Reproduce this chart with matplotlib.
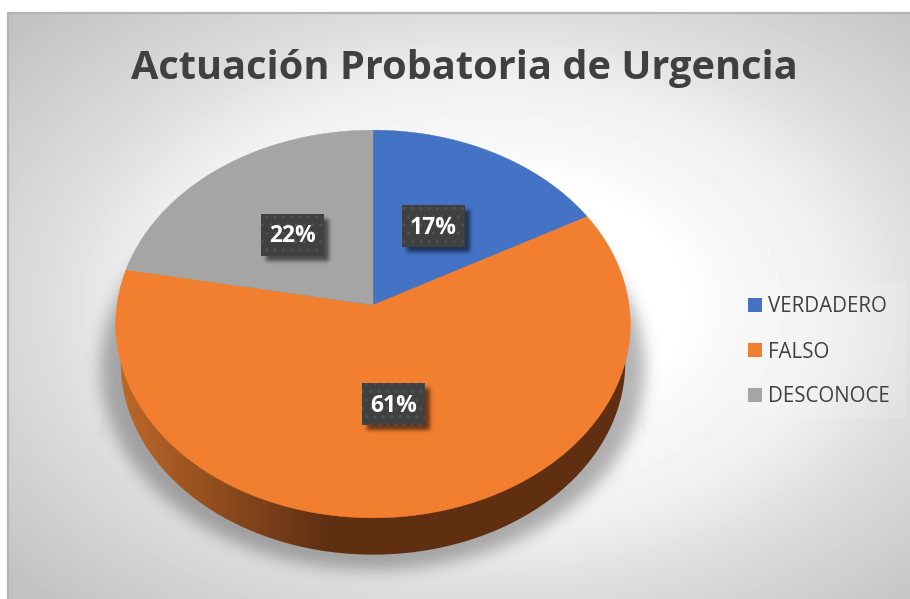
import matplotlib
matplotlib.use("Agg")
import matplotlib.pyplot as plt
import numpy as np
from matplotlib.patches import Polygon, Rectangle
from matplotlib.path import Path

categories = ["VERDADERO", "FALSO", "DESCONOCE"]
percents = [17, 61, 22]
colors = ["#4472c4", "#f27e30", "#a5a5a5"]
title = "Actuación Probatoria de Urgencia"

W, H = 910, 599
label_boxes = [(402, 205), (362, 383), (261, 214)]
legend_y = [305, 350, 395]

plt.rcParams["font.family"] = ["Open Sans", "DejaVu Sans"]


def project(theta, cx=373, cy=305, sx=256, sy=192, k=-0.098):
    # tilted circle -> picture, theta clockwise from 12 o'clock
    x = np.sin(theta)
    y = np.cos(theta)
    d = 1 - k * y
    return cx + sx * x / d, cy - sy * y / d


def blur(a, sigma):
    r = int(3 * sigma)
    g = np.exp(-0.5 * (np.arange(-r, r + 1) / sigma) ** 2)
    g /= g.sum()
    a = np.apply_along_axis(lambda m: np.convolve(m, g, mode="same"), 0, a)
    a = np.apply_along_axis(lambda m: np.convolve(m, g, mode="same"), 1, a)
    return a


fig = plt.figure(figsize=(W / 100, H / 100), dpi=100)
ax = fig.add_axes([0, 0, 1, 1])
ax.set_xlim(0, W)
ax.set_ylim(H, 0)
ax.axis("off")

# background gradient
xx, yy = np.meshgrid(np.arange(W) + 0.5, np.arange(H) + 0.5)
t = np.sqrt(((xx - 490) / 450) ** 2 + ((yy - 305) / 295) ** 2) / np.sqrt(2)
bg = np.interp(t, [0, 0.3, 0.38, 0.54, 0.707, 0.8, 1.0], [255, 255, 248, 240, 220, 212, 194]) / 255
ax.imshow(bg, cmap="gray", vmin=0, vmax=1, extent=(0, W, H, 0), zorder=0, aspect="auto")
ax.add_patch(Rectangle((0, 0), W, 12, fc="white", ec="none", zorder=0.5))
ax.add_patch(Rectangle((0, 0), 7, H, fc="white", ec="none", zorder=0.5))
ax.plot([7.5, 7.5, W], [H, 12.5, 12.5], color="#b4b4b4", lw=1.6, zorder=0.6)

# legend panel is a bit lighter than the background
ax.add_patch(Rectangle((735, 282), 171, 136, fc="white", ec="none", alpha=0.12, zorder=0.7))

# soft shadow below the pie
pts = Path(np.column_stack([xx.ravel(), yy.ravel()]))
ell = ((xx - 373) / 272) ** 2 + ((yy - 368) / 202) ** 2 < 1
shadow = blur(ell.astype(float), 8) * 0.3
trap = Path([(122, 330), (625, 330), (650, 442), (96, 442)])
tmask = trap.contains_points(pts.vertices).reshape(xx.shape).astype(float)
fade = np.clip(np.abs(xx - 373) - 245, 0, None) / 30
tval = tmask * (1 - 0.75 * np.clip(fade, 0, 1)) * np.clip((442 - yy) / 30, 0, 1) * 0.27
shadow = np.maximum(shadow, blur(tval, 1))
rgba = np.zeros((H, W, 4))
rgba[..., 3] = shadow
ax.imshow(rgba, extent=(0, W, H, 0), zorder=1, aspect="auto")

# side wall with a horizontal gradient
th = np.linspace(np.pi / 2 + 0.1, 3 * np.pi / 2 - 0.1, 200)
wx, wy = project(th, cy=344, sx=251, sy=190)
lx, ly = project(np.array([3 * np.pi / 2 + 0.1]))
rx, ry = project(np.array([np.pi / 2 - 0.1]))
wall = np.vstack([[rx[0], ry[0]], np.column_stack([wx, wy]), [lx[0], ly[0]]])
ramp = np.interp(np.arange(W) + 0.5, [118, 325], [0, 1])
c0 = np.array([190, 104, 42]) / 255
c1 = np.array([96, 47, 18]) / 255
grad = np.outer(1 - ramp, c0) + np.outer(ramp, c1)
im = ax.imshow(grad[None, :, :], extent=(0, W, H, 0), zorder=2, aspect="auto")
im.set_clip_path(Polygon(wall, closed=True, transform=ax.transData))

# slices, clockwise from the top
start = 0.0
for v, col in zip(percents, colors):
    th = np.linspace(start, start + v / 100 * 2 * np.pi, 200)
    px, py = project(th)
    ax.add_patch(Polygon(np.vstack([[373, 305], np.column_stack([px, py])]), closed=True,
                         fc=col, ec=col, lw=0.3, zorder=3))
    start += v / 100 * 2 * np.pi

# data labels
box_shadow = np.zeros((H, W))
for bx, by in label_boxes:
    box_shadow[by + 5:by + 47, bx + 5:bx + 68] = 1
rgba = np.zeros((H, W, 4))
rgba[..., 3] = blur(box_shadow, 2) * 0.55
ax.imshow(rgba, extent=(0, W, H, 0), zorder=4, aspect="auto")
for v, (bx, by) in zip(percents, label_boxes):
    ax.add_patch(Rectangle((bx, by), 63, 42, fc="#404040", ec="#505050", hatch="..", lw=0, zorder=5))
    ax.text(bx + 31.5, by + 22.5, f"{v}%", color="white", fontsize=16.5, fontweight="bold",
            ha="center", va="center", zorder=6)

# legend
for name, col, y in zip(categories, colors, legend_y):
    ax.add_patch(Rectangle((748, y - 7), 14, 14, fc=col, ec="none", zorder=3))
    ax.text(768, y + 2, name, color="#404040", fontsize=14.8, ha="left", va="center", zorder=3)

ax.text(464.5, 68, title, color="#404040", fontsize=28.6, fontweight="bold", ha="center", va="center", zorder=3)

fig.savefig("out.png", dpi=100)
